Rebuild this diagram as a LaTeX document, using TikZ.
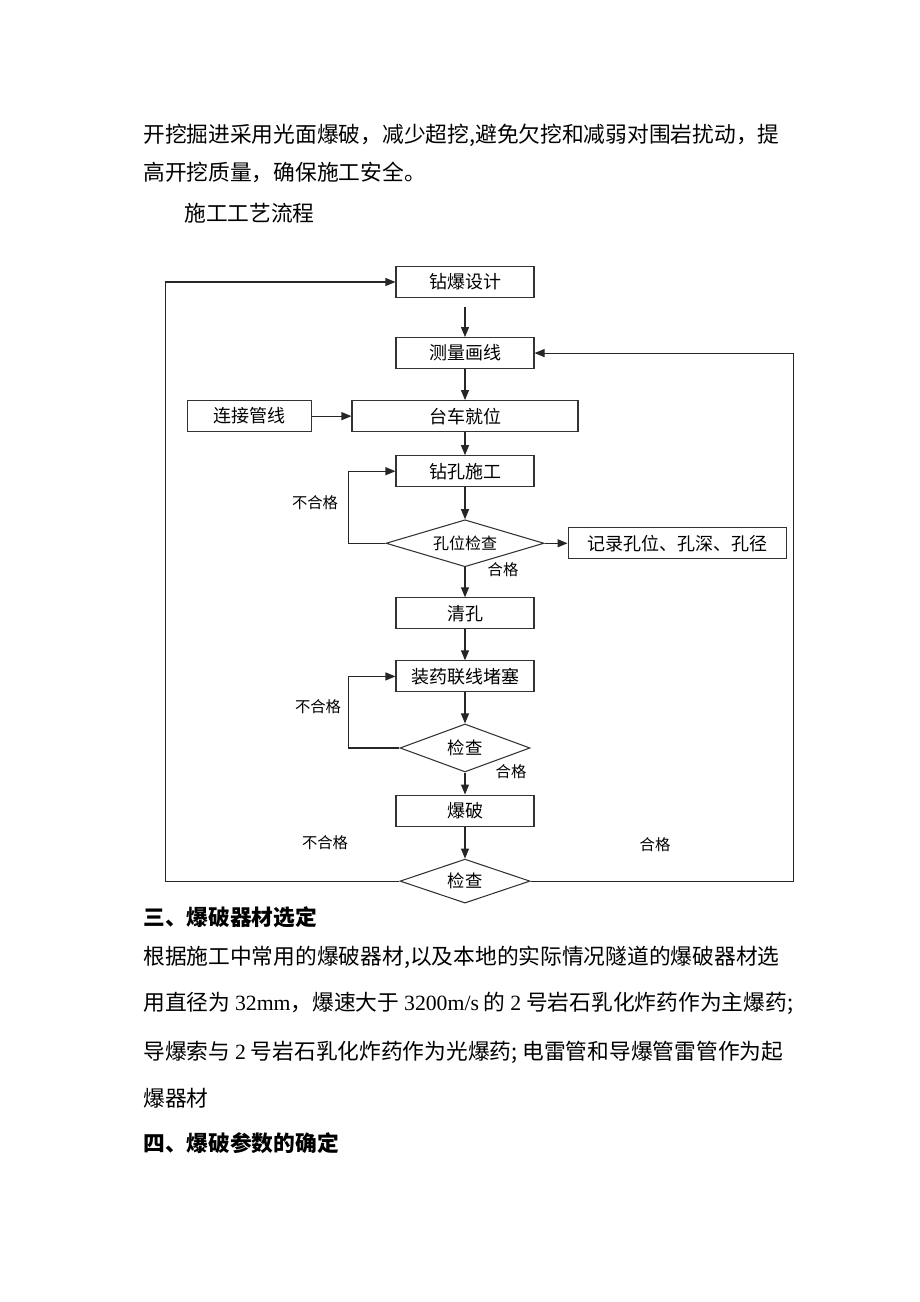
\documentclass[tikz,border=0pt]{standalone}
\usepackage{fontspec}
\setmainfont{Noto Sans CJK SC}
\newfontfamily\lat{Liberation Serif}
\usetikzlibrary{arrows.meta,shapes.geometric,positioning}

\begin{document}
\begin{tikzpicture}[x=0.75pt, y=-0.75pt, node distance=23.25pt,
                    box/.style = {draw=black!80, line width=0.8pt, minimum width=103.5pt,
                      minimum height=23.25pt, inner sep=0pt, font=\fontsize{13.5pt}{13.5pt}\selectfont},
                    chk/.style = {draw=black!80, line width=0.8pt, diamond, aspect=3,
                      inner sep=0pt, font=\fontsize{13pt}{13pt}\selectfont},
                    arr/.style = {-{Triangle[length=7.5pt,width=6pt]}, line width=0.8pt, black!85},
                    txt/.style = {anchor=west, inner sep=0pt, font=\fontsize{16.3pt}{16.3pt}\selectfont},
                    lbl/.style = {inner sep=0pt, font=\fontsize{11.5pt}{11.5pt}\selectfont}]
\useasboundingbox (0,0) rectangle (920,1302);
% text above the chart
\node[txt] (p1) at (143,135) {开挖掘进采用光面爆破，减少超挖,避免欠挖和减弱对围岩扰动，提};
\node[txt] (p2) at (143,172) {高开挖质量，确保施工安全。};
\node[txt] (p3) at (184,213) {施工工艺流程};
% flow chart
\node[box] (zb) at (465,282) {钻爆设计};
\node[box, below=29.25pt of zb] (cl) {测量画线};
\node[box, minimum width=169.5pt, below=23.25pt of cl] (tc) {台车就位};
\node[box, minimum width=93pt, left=29.25pt of tc] (lj) {连接管线};
\node[box, below=17.25pt of tc] (zk) {钻孔施工};
\node[chk, minimum width=118.5pt, minimum height=35.25pt, font=\fontsize{12pt}{12pt}\selectfont,
      below=24pt of zk] (kw) {孔位检查};
\node[box, minimum width=163.5pt, right=17.25pt of kw] (jl) {记录孔位、孔深、孔径};
\node[box, below=22.5pt of kw] (qk) {清孔};
\node[box, below=23.25pt of qk] (zy) {装药联线堵塞};
\node[chk, minimum width=97.5pt, minimum height=36pt, below=23.25pt of zy] (jc) {检查};
\node[box, below=16.5pt of jc] (bp) {爆破};
\node[chk, minimum width=97.5pt, minimum height=33pt, below=24pt of bp] (jcb) {检查};
\draw[arr, shorten <=6.75pt] (zb) -- (cl);
\draw[arr] (cl) -- (tc);
\draw[arr] (lj) -- (tc);
\draw[arr] (tc) -- (zk);
\draw[arr] (zk) -- (kw);
\draw[arr] (kw) -- (jl);
\draw[arr] (kw) -- (qk);
\draw[arr] (qk) -- (zy);
\draw[arr] (zy) -- (jc);
\draw[arr] (jc) -- (bp);
\draw[arr] (bp) -- (jcb);
% return loops
\draw[arr] (kw.west) -- ++(-37,0) |- (zk.west);
\draw[arr] (jc.west) -- ++(-51,0) |- (zy.west);
\draw[arr] (jcb.west) -- ++(-234,0) |- (zb.west);
\draw[arr] (jcb.east) -- ++(263,0) |- (cl.east);
\node[lbl] (ng1) at (315,503) {不合格};
\node[lbl] (ok1) at (503,570) {合格};
\node[lbl] (ng2) at (318,707) {不合格};
\node[lbl] (ok2) at (511,772) {合格};
\node[lbl] (ng3) at (325,843) {不合格};
\node[lbl] (ok3) at (655,845) {合格};
% text below the chart
\node[txt, font=\fontsize{16.3pt}{16.3pt}\bfseries] (h3) at (143,917) {三、爆破器材选定};
\node[txt] (q1) at (143,957) {根据施工中常用的爆破器材,以及本地的实际情况隧道的爆破器材选};
\node[txt] (q2) at (143,1003) {用直径为 {\lat 32mm}，爆速大于 {\lat 3200m/s} 的 {\lat 2} 号岩石乳化炸药作为主爆药;};
\node[txt] (q3) at (143,1052) {导爆索与 {\lat 2} 号岩石乳化炸药作为光爆药; 电雷管和导爆管雷管作为起};
\node[txt] (q4) at (143,1098) {爆器材};
\node[txt, font=\fontsize{16.3pt}{16.3pt}\bfseries] (h4) at (143,1143) {四、爆破参数的确定};
\end{tikzpicture}
\end{document}
